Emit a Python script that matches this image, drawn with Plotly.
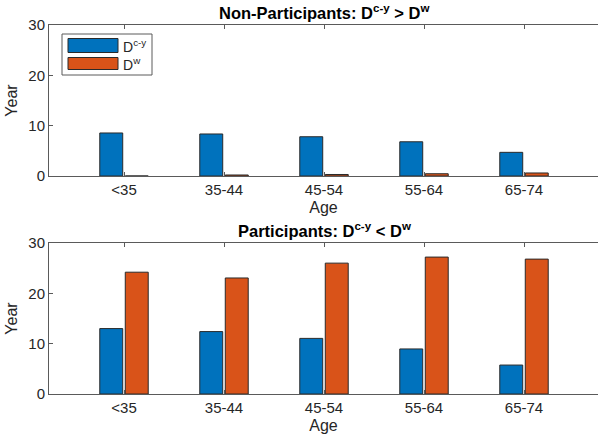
import plotly.graph_objects as go

ages = ["<35", "35-44", "45-54", "55-64", "65-74"]
non_dcy = [8.55, 8.35, 7.8, 6.8, 4.7]
non_dw = [0.0, 0.2, 0.3, 0.45, 0.6]
par_dcy = [13.0, 12.4, 11.05, 8.95, 5.75]
par_dw = [24.2, 23.05, 26.0, 27.2, 26.8]
yticks = [0, 10, 20, 30]

BLUE = "#0072BD"
ORANGE = "#D95319"
AX = "#262626"
LINE = "#5a5a5a"
FONT = "Liberation Sans, Arial, sans-serif"
W, H = 598, 434
L = 49

def px_x(p):
    return (p - L) / (W - L)

def px_y(p):
    return (H - p) / H

fig = go.Figure()
for (dcy, dw, xa, ya) in [(non_dcy, non_dw, "x", "y"), (par_dcy, par_dw, "x2", "y2")]:
    fig.add_trace(go.Bar(x=ages, y=dcy, xaxis=xa, yaxis=ya, marker=dict(color=BLUE, line=dict(color="#2a2a2a", width=1)),
                         name="D<sup>c-y</sup>", showlegend=False))
    fig.add_trace(go.Bar(x=ages, y=dw, xaxis=xa, yaxis=ya, marker=dict(color=ORANGE, line=dict(color="#2a2a2a", width=1)),
                         name="D<sup>w</sup>", showlegend=False))

xcommon = dict(type="category", range=[-0.75, 4.74], showline=True, linecolor=LINE, linewidth=1, mirror="ticks",
               ticks="inside", ticklen=4, tickcolor=LINE, showgrid=False, zeroline=False, automargin=False,
               tickfont=dict(family=FONT, size=15, color=AX),
               title=dict(text="Age", font=dict(family=FONT, size=16, color=AX), standoff=4))
ycommon = dict(range=[0, 30], tickvals=yticks, showline=True, linecolor=LINE, linewidth=1, automargin=False,
               ticks="inside", ticklen=4, tickcolor=LINE, showgrid=False, zeroline=False,
               tickfont=dict(family=FONT, size=15, color=AX),
               title=dict(text="Year", font=dict(family=FONT, size=16, color=AX), standoff=6))

top_dom = [px_y(176), px_y(25)]
bot_dom = [px_y(394), px_y(243)]

fig.update_layout(
    width=W, height=H, autosize=False,
    margin=dict(l=L, r=0, t=0, b=0, autoexpand=False),
    paper_bgcolor="white", plot_bgcolor="white",
    barmode="group", bargap=0.49, bargroupgap=0.1,
    xaxis=dict(xcommon, domain=[0, 1], anchor="y"),
    yaxis=dict(ycommon, domain=top_dom, anchor="x"),
    xaxis2=dict(xcommon, domain=[0, 1], anchor="y2"),
    yaxis2=dict(ycommon, domain=bot_dom, anchor="x2"),
    font=dict(family=FONT, color=AX),
)

# subplot titles
fig.add_annotation(text="<b>Non-Participants: D<sup>c-y</sup> &gt; D<sup>w</sup></b>", xref="paper", yref="paper",
                   x=px_x(324), y=px_y(24), xanchor="center", yanchor="bottom", showarrow=False,
                   font=dict(family=FONT, size=16.5, color="black"))
fig.add_annotation(text="<b>Participants: D<sup>c-y</sup> &lt; D<sup>w</sup></b>", xref="paper", yref="paper",
                   x=px_x(324), y=px_y(242), xanchor="center", yanchor="bottom", showarrow=False,
                   font=dict(family=FONT, size=16.5, color="black"))

# legend box (custom, MATLAB style)
fig.add_shape(type="rect", xref="paper", yref="paper", x0=px_x(62), x1=px_x(152), y0=px_y(75), y1=px_y(34),
              line=dict(color=LINE, width=1), fillcolor="white", layer="above")
fig.add_shape(type="rect", xref="paper", yref="paper", x0=px_x(68), x1=px_x(118), y0=px_y(52.5), y1=px_y(38.5),
              line=dict(color="#2a2a2a", width=1), fillcolor=BLUE, layer="above")
fig.add_shape(type="rect", xref="paper", yref="paper", x0=px_x(68), x1=px_x(118), y0=px_y(69.5), y1=px_y(57.5),
              line=dict(color="#2a2a2a", width=1), fillcolor=ORANGE, layer="above")
fig.add_annotation(text="D<sup>c-y</sup>", xref="paper", yref="paper", x=px_x(121), y=px_y(46), xanchor="left",
                   yanchor="middle", showarrow=False, font=dict(family=FONT, size=14, color=AX))
fig.add_annotation(text="D<sup>w</sup>", xref="paper", yref="paper", x=px_x(121), y=px_y(64), xanchor="left",
                   yanchor="middle", showarrow=False, font=dict(family=FONT, size=14, color=AX))

fig.write_html("out.html", config={"displayModeBar": False},
               post_script="document.body.style.margin='0px';document.body.style.overflow='hidden';")
